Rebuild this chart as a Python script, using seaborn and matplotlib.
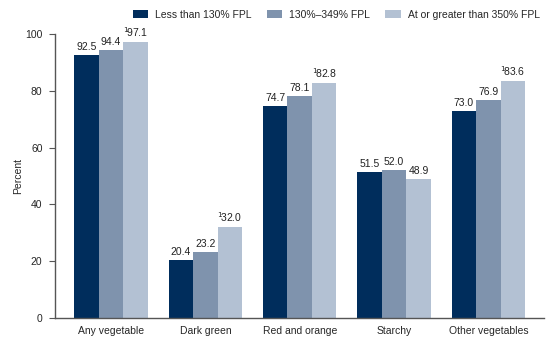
import matplotlib
matplotlib.use("Agg")
import matplotlib.pyplot as plt
import seaborn as sns
import pandas as pd

categories = ["Any vegetable", "Dark green", "Red and orange", "Starchy", "Other vegetables"]
groups = ["Less than 130% FPL", "130%\u2013349% FPL", "At or greater than 350% FPL"]
low = [92.5, 20.4, 74.7, 51.5, 73.0]
mid = [94.4, 23.2, 78.1, 52.0, 76.9]
high = [97.1, 32.0, 82.8, 48.9, 83.6]
high_flag = [True, True, True, False, True]

colors = ["#002D5C", "#7F93AD", "#B3C1D3"]

rows = []
for g, vals in zip(groups, [low, mid, high]):
    for c, v in zip(categories, vals):
        rows.append({"cat": c, "grp": g, "val": v})
df = pd.DataFrame(rows)

sns.set_style("white")
plt.rcParams['font.family'] = ['Liberation Sans', 'DejaVu Sans']

fig = plt.figure(figsize=(5.6, 3.49), dpi=100)
ax = fig.add_axes([55/560, 1-318/349, (544-55)/560, (318-34)/349])

sns.barplot(data=df, x="cat", y="val", hue="grp", order=categories, hue_order=groups,
            palette=colors, width=0.78, ax=ax, saturation=1, errorbar=None, linewidth=0)

for ci, cont in enumerate(ax.containers):
    for bi, bar in enumerate(cont):
        v = bar.get_height()
        txt = f"{v:.1f}"
        if ci == 2 and high_flag[bi]:
            txt = r"$^{1}\!$" + txt
        ax.text(bar.get_x() + bar.get_width()/2, v + 1.0, txt, ha="center", va="bottom",
                fontsize=7.5, color="#222222")

ax.set_ylim(0, 100)
ax.set_yticks([0, 20, 40, 60, 80, 100])
ax.set_xlim(-0.594, 4.59)
ax.set_xlabel("")
ax.set_ylabel("Percent", fontsize=7.5)
ax.tick_params(axis="y", length=4, width=0.8, labelsize=7.5, direction="out", left=True,
               color="#555555", pad=5)
ax.tick_params(axis="x", length=0, labelsize=7.5, pad=6)
for s in ["top", "right"]:
    ax.spines[s].set_visible(False)
for s in ["left", "bottom"]:
    ax.spines[s].set_color("#555555")
    ax.spines[s].set_linewidth(1)
ax.yaxis.set_label_coords(-32/489, 0.5)

leg = ax.legend(loc="center right", bbox_to_anchor=(1.0, 1.067), ncol=3, frameon=False,
                fontsize=7.5, handlelength=1.5, handleheight=0.8, columnspacing=1.4,
                handletextpad=0.7, borderaxespad=0)

fig.savefig("out.png", dpi=100)
